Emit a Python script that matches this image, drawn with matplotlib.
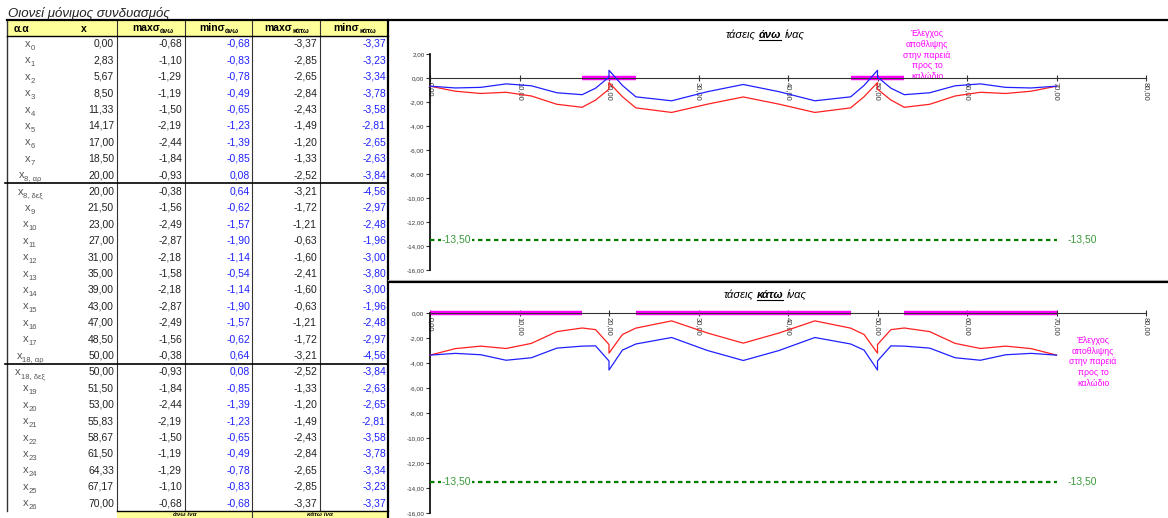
import matplotlib
matplotlib.use("Agg")
import matplotlib.pyplot as plt
from matplotlib.ticker import FuncFormatter

plt.rcParams['font.family'] = ['Liberation Sans', 'DejaVu Sans']

# table data
labels = [("x", "0"), ("x", "1"), ("x", "2"), ("x", "3"), ("x", "4"), ("x", "5"),
          ("x", "6"), ("x", "7"), ("x", "8, αρ"), ("x", "8, δεξ"), ("x", "9"),
          ("x", "10"), ("x", "11"), ("x", "12"), ("x", "13"), ("x", "14"),
          ("x", "15"), ("x", "16"), ("x", "17"), ("x", "18, αρ"), ("x", "18, δεξ"),
          ("x", "19"), ("x", "20"), ("x", "21"), ("x", "22"), ("x", "23"),
          ("x", "24"), ("x", "25"), ("x", "26")]
x = [0.00, 2.83, 5.67, 8.50, 11.33, 14.17, 17.00, 18.50, 20.00, 20.00, 21.50,
     23.00, 27.00, 31.00, 35.00, 39.00, 43.00, 47.00, 48.50, 50.00, 50.00,
     51.50, 53.00, 55.83, 58.67, 61.50, 64.33, 67.17, 70.00]
max_top = [-0.68, -1.10, -1.29, -1.19, -1.50, -2.19, -2.44, -1.84, -0.93, -0.38,
           -1.56, -2.49, -2.87, -2.18, -1.58, -2.18, -2.87, -2.49, -1.56, -0.38,
           -0.93, -1.84, -2.44, -2.19, -1.50, -1.19, -1.29, -1.10, -0.68]
min_top = [-0.68, -0.83, -0.78, -0.49, -0.65, -1.23, -1.39, -0.85, 0.08, 0.64,
           -0.62, -1.57, -1.90, -1.14, -0.54, -1.14, -1.90, -1.57, -0.62, 0.64,
           0.08, -0.85, -1.39, -1.23, -0.65, -0.49, -0.78, -0.83, -0.68]
max_bot = [-3.37, -2.85, -2.65, -2.84, -2.43, -1.49, -1.20, -1.33, -2.52, -3.21,
           -1.72, -1.21, -0.63, -1.60, -2.41, -1.60, -0.63, -1.21, -1.72, -3.21,
           -2.52, -1.33, -1.20, -1.49, -2.43, -2.84, -2.65, -2.85, -3.37]
min_bot = [-3.37, -3.23, -3.34, -3.78, -3.58, -2.81, -2.65, -2.63, -3.84, -4.56,
           -2.97, -2.48, -1.96, -3.00, -3.80, -3.00, -1.96, -2.48, -2.97, -4.56,
           -3.84, -2.63, -2.65, -2.81, -3.58, -3.78, -3.34, -3.23, -3.37]

# chart extras
limit_value = -13.50
limit_x = [0.0, 70.0]
top_check = [(17.0, 23.0), (47.0, 53.0)]
bot_check = [(0.0, 17.0), (23.0, 47.0), (53.0, 70.0)]
check_text = "Έλεγχος\nαποθλιψης\nστην παρειά\nπρος το\nκαλώδιο"

W, H = 1168, 518
fig = plt.figure(figsize=(W / 100, H / 100), dpi=100)
bg = fig.add_axes([0, 0, 1, 1])
bg.set_xlim(0, W)
bg.set_ylim(H, 0)
bg.axis('off')
renderer = fig.canvas.get_renderer()


def fmt(v):
    return f"{v:.2f}".replace('.', ',')


def rich(xp, yp, parts, ha='center'):
    # parts: (text, props, dy, underline) drawn left to right on one baseline
    objs = []
    cx = xp
    for s, props, dy, ul in parts:
        t = bg.text(cx, yp + dy, s, ha='left', va='baseline', **props)
        w = t.get_window_extent(renderer=renderer).width
        objs.append((t, cx, cx + w, ul))
        cx += w
    total = cx - xp
    shift = {'center': -total / 2, 'right': -total, 'left': 0}[ha]
    for t, a, b, ul in objs:
        t.set_x(a + shift)
        if ul:
            bg.plot([a + shift, b + shift], [yp + 2, yp + 2], color='black', lw=0.8)


# ---- table ----
bg.text(8, 13, "Οιονεί μόνιμος συνδυασμός", fontsize=9.5, style='italic',
        va='center', ha='left', color='#222222')
col_lines = [7, 117, 185, 252, 320, 388]
bg.fill_between([7, 388], 21, 36, color='#ffff99', lw=0)
row0, dy_row = 44.0, 16.4
nrows = len(x)
y_end = row0 + (nrows - 0.5) * dy_row
for cx_ in col_lines[1:-1]:
    bg.plot([cx_, cx_], [20, y_end], color='#333333', lw=0.8)
bg.plot([7, 7], [20, y_end], color='#333333', lw=1.0)
bg.plot([388, 388], [20, H], color='black', lw=1.6)
bg.plot([7, W], [20, 20], color='black', lw=1.6)
bg.plot([7, 388], [36, 36], color='black', lw=1.0)
bg.plot([5, 388], [row0 + 8.5 * dy_row] * 2, color='black', lw=1.2)
bg.plot([5, 388], [row0 + 19.5 * dy_row] * 2, color='black', lw=1.2)

hb = dict(fontsize=7.5, weight='bold', color='black')
hs = dict(fontsize=5, weight='bold', color='black')
bg.text(22, 29, "α.α", ha='center', va='center', **hb)
bg.text(84, 29, "x", ha='center', va='center', **hb)
for cxh, base, sub in [(153, "maxσ", "άνω"), (219, "minσ", "άνω"),
                       (287, "maxσ", "κάτω"), (355, "minσ", "κάτω")]:
    rich(cxh, 31, [(base, hb, 0, False), (sub, hs, 2, False)])

ls = dict(fontsize=8, color='#555555')
ss = dict(fontsize=5.5, color='#555555')
num = dict(fontsize=7.5, va='center', ha='right')
for i in range(nrows):
    yc = row0 + i * dy_row
    base, sub = labels[i]
    rich(30, yc + 3, [(base, ls, 0, False), (sub, ss, 3, False)])
    bg.text(114, yc, fmt(x[i]), color='#222222', **num)
    bg.text(182, yc, fmt(max_top[i]), color='#222222', **num)
    bg.text(250, yc, fmt(min_top[i]), color='#2020ff', **num)
    bg.text(317, yc, fmt(max_bot[i]), color='#222222', **num)
    bg.text(386, yc, fmt(min_bot[i]), color='#2020ff', **num)

bg.fill_between([117, 388], y_end, H, color='#ffff99', lw=0)
bg.plot([117, 388], [y_end, y_end], color='black', lw=1.0)
bg.plot([252, 252], [y_end, H], color='#333333', lw=0.8)
bg.text(185, y_end + 3.2, "άνω ίνα", ha='center', va='center', fontsize=4.5,
        weight='bold', style='italic')
bg.text(320, y_end + 3.2, "κάτω ίνα", ha='center', va='center', fontsize=4.5,
        weight='bold', style='italic')

# ---- chart frames ----
bg.plot([388, W], [280, 280], color='#bbbbbb', lw=0.8)
bg.plot([388, W], [282, 282], color='black', lw=1.6)

tt = dict(fontsize=8, style='italic', color='black')
tb = dict(fontsize=8, style='italic', weight='bold', color='black')
rich(765, 38, [("τάσεις", tt, 0, False), (" ", tt, 0, False),
               ("άνω", tb, 0, True), (" ", tt, 0, False), ("ίνας", tt, 0, False)])
rich(765, 298, [("τάσεις", tt, 0, False), (" ", tt, 0, False),
                ("κάτω", tb, 0, True), (" ", tt, 0, False), ("ίνας", tt, 0, False)])

bg.text(927, 55, check_text, color='#ff00ff', fontsize=6.3, ha='center',
        va='center', multialignment='center', linespacing=1.25)
bg.text(1093, 362, check_text, color='#ff00ff', fontsize=6.3, ha='center',
        va='center', multialignment='center', linespacing=1.25)


def chart(top_px, bot_px, ymax, ymin, red, blue, checks):
    ax = fig.add_axes([430 / W, 1 - bot_px / H, (1146 - 430) / W,
                       (bot_px - top_px) / H])
    ax.patch.set_visible(False)
    ax.set_xlim(0, 80)
    ax.set_ylim(ymin, ymax)
    for a, b in checks:
        ax.plot([a, b], [0, 0], color='#ff00ff', lw=3.2,
                solid_capstyle='butt', clip_on=False, zorder=2)
    ax.plot(x, red, color='#ff2020', lw=0.9, zorder=3, clip_on=False)
    ax.plot(x, blue, color='#2020ff', lw=0.9, zorder=3, clip_on=False)
    ax.plot(limit_x, [limit_value, limit_value], color='#008000', lw=1.6,
            ls=(0, (2, 1.6)), zorder=3)
    lab = fmt(limit_value)
    ax.text(1.3, limit_value, lab, color='#3a9a3a', fontsize=7.5, va='center',
            ha='left', zorder=4,
            bbox=dict(fc='white', ec='none', pad=0.6))
    ax.text(limit_x[1] + 1.2, limit_value, lab, color='#3a9a3a', fontsize=7.5,
            va='center', ha='left')
    ax.spines['top'].set_visible(False)
    ax.spines['right'].set_visible(False)
    ax.spines['bottom'].set_position(('data', 0))
    ax.spines['bottom'].set_color('#333333')
    ax.spines['left'].set_linewidth(1.2)
    ax.set_xticks(range(0, 81, 10))
    ax.set_yticks(range(int(ymax), int(ymin) - 1, -2))
    f = FuncFormatter(lambda v, p: fmt(v))
    ax.xaxis.set_major_formatter(f)
    ax.yaxis.set_major_formatter(f)
    ax.tick_params(axis='x', direction='inout', length=4, labelsize=5.5,
                   labelrotation=270, pad=1, colors='#333333')
    ax.tick_params(axis='y', direction='out', length=3, labelsize=4.5, pad=1,
                   colors='#333333')
    return ax


chart(54, 270, 2, -16, max_top, min_top, top_check)
chart(313, 513, 0, -16, max_bot, min_bot, bot_check)

fig.savefig("out.png", dpi=100)
